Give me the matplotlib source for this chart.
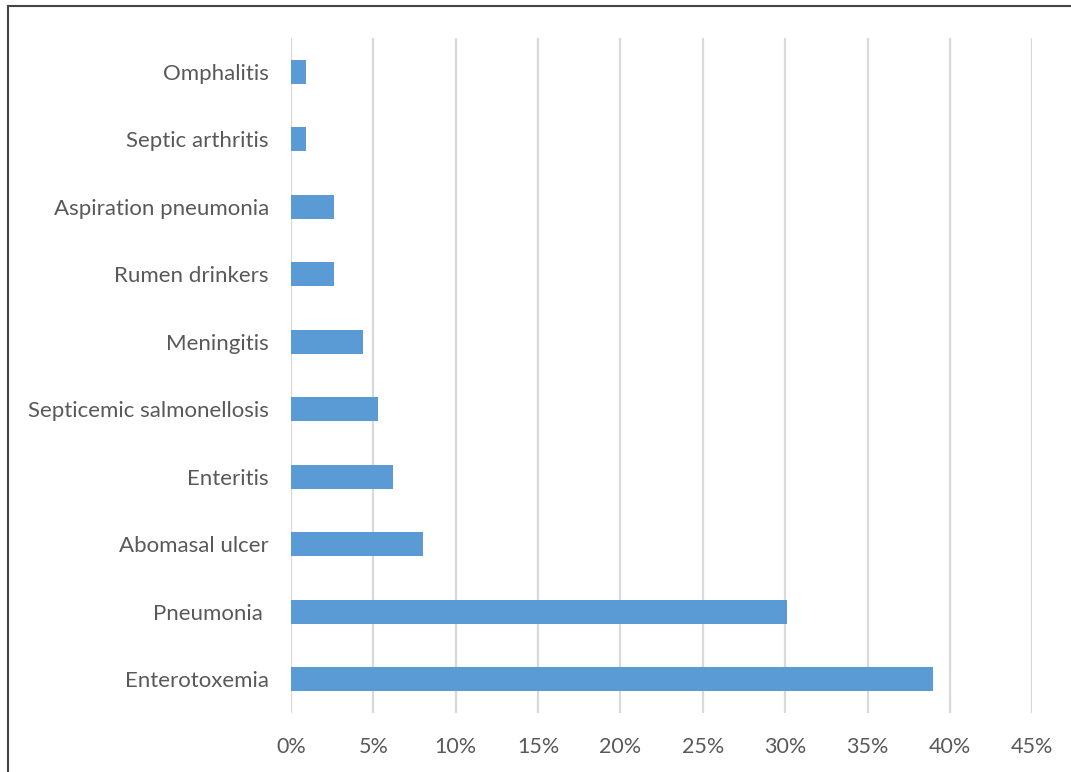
import matplotlib
matplotlib.use("Agg")
import matplotlib.pyplot as plt
from matplotlib.lines import Line2D
from matplotlib.ticker import FuncFormatter, MultipleLocator

# Causes of calf mortality (share of cases, %)
categories = [
    "Enterotoxemia",
    "Pneumonia ",
    "Abomasal ulcer",
    "Enteritis",
    "Septicemic salmonellosis",
    "Meningitis",
    "Rumen drinkers",
    "Aspiration pneumonia",
    "Septic arthritis",
    "Omphalitis",
]
shares = [39.0, 30.1, 8.0, 6.2, 5.3, 4.4, 2.6, 2.6, 0.9, 0.9]

plt.rcParams["font.family"] = ["Lato", "DejaVu Sans"]

fig = plt.figure(figsize=(10.71, 7.72), dpi=100)
ax = fig.add_axes([291 / 1071, 1 - 713 / 772, (1032.3 - 291) / 1071, (713 - 38) / 772])

ypos = range(len(categories))
ax.barh(ypos, shares, height=0.355, color="#5b9bd5", zorder=3)

ax.set_xlim(0, 45)
ax.set_ylim(-0.5, len(categories) - 0.5)
ax.xaxis.set_major_locator(MultipleLocator(5))
ax.xaxis.set_major_formatter(FuncFormatter(lambda v, _: f"{v:.0f}%"))
ax.set_yticks(list(ypos))
ax.set_yticklabels(categories)

ax.grid(axis="x", color="#d9d9d9", linewidth=1.6, zorder=0)
for s in ax.spines.values():
    s.set_visible(False)
ax.tick_params(axis="both", length=0, colors="#595959")
ax.tick_params(axis="x", pad=17, labelsize=15.5)
ax.tick_params(axis="y", pad=16, labelsize=16)

# Outer frame (top and left edges)
fig.add_artist(Line2D([8 / 1071, 8 / 1071], [0, 1 - 6 / 772], transform=fig.transFigure,
                      color="#444444", linewidth=1.5))
fig.add_artist(Line2D([8 / 1071, 1], [1 - 6 / 772, 1 - 6 / 772], transform=fig.transFigure,
                      color="#444444", linewidth=1.5))

fig.savefig("out.png", dpi=100)
